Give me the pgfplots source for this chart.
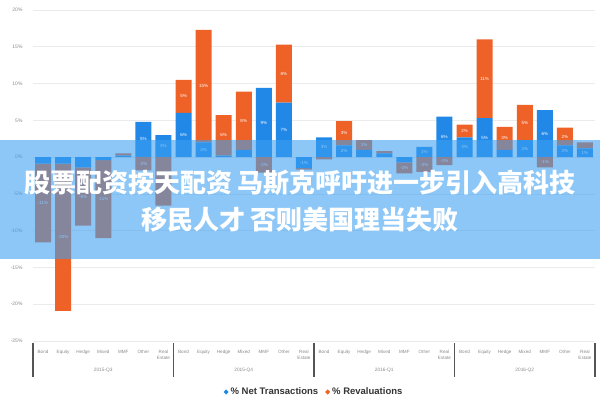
\documentclass[border=0pt]{standalone}
\usepackage{pgfplots}
\usepackage{pgfplotstable}
\pgfplotsset{compat=1.18}
\usepackage{fontspec}
\setmainfont{Liberation Sans}
\newfontfamily\cjk{Noto Sans CJK SC}

\definecolor{nettx}{HTML}{2188E8}
\definecolor{reval}{HTML}{EE6228}
\definecolor{band}{RGB}{58,159,241}
\definecolor{ticktxt}{HTML}{8A8A8A}
\definecolor{sepline}{HTML}{555555}

% fund flows by category, % of assets; positive and negative parts kept apart
% so that each stack grows away from zero
\pgfplotstableread{
x  bp   rp    bn    rn     lbp    lrp    lbn    lrn
0  0    0     -0.9  -10.7  {}     {}     {}     -11\%
1  0    0     -0.9  -20.0  {}     {}     {}     -20\%
2  0    0     -1.4  -7.9   {}     {}     {}     -8\%
3  0    0     -0.4  -10.6  {}     {}     {}     -11\%
4  0.2  0.3   0     0      {}     {}     {}     {}
5  4.8  0     0     -1.8   5\%    {}     {}     -2\%
6  3.0  0     0     -6.6   3\%    {}     {}     -7\%
7  6.0  4.5   0     0      6\%    5\%    {}     {}
8  2.0  15.3  0     0      2\%    15\%   {}     {}
9  0.2  5.5   0     0      {}     6\%    {}     {}
10 1.0  7.9   0     0      {}     8\%    {}     {}
11 9.4  0     0     -2.1   9\%    {}     {}     -2\%
12 7.4  7.9   0     0      7\%    8\%    {}     {}
13 0    0     -1.5  -0.2   {}     {}     -1\%   {}
14 2.7  0     0     -0.3   3\%    {}     {}     {}
15 1.6  3.3   0     0      2\%    3\%    {}     {}
16 1.0  1.3   0     0      {}     1\%    {}     {}
17 0.5  0.3   0     0      {}     {}     {}     {}
18 0    0     -0.7  -1.5   {}     {}     {}     -2\%
19 1.4  0     0     -2.0   1\%    {}     {}     -2\%
20 5.5  0     0     -1.1   6\%    {}     {}     -1\%
21 2.7  1.7   0     0      3\%    2\%    {}     {}
22 5.3  10.7  0     0      5\%    11\%   {}     {}
23 1.0  3.1   0     0      {}     3\%    {}     {}
24 2.3  4.8   0     0      2\%    5\%    {}     {}
25 6.4  0     0     -1.4   6\%    {}     {}     -1\%
26 1.6  2.4   0     0      2\%    2\%    {}     {}
27 1.2  0.8   0     0      1\%    {}     {}     {}
}\flows

\pgfplotsset{
  fundaxis/.style={
    scale only axis, width=562pt, height=331pt,
    at={(33pt,59pt)}, anchor=south west,
    xmin=-0.5, xmax=27.5, ymin=-25, ymax=20,
    ybar stacked, bar width=16pt,
  },
  seglabels/.style={
    point meta=explicit symbolic,
    nodes near coords={\pgfplotspointmeta},
    nodes near coords align=center,
    every node near coord/.append style={
      font=\fontsize{4.5}{5}\selectfont, text=white, inner sep=0pt},
  },
  diamondlegend/.style={
    legend image code/.code={
      \fill[##1] (0.5pt,0pt) -- (3pt,2.6pt) -- (5.5pt,0pt) -- (3pt,-2.6pt) -- cycle;}
  },
}

\begin{document}
\begin{tikzpicture}
\path[use as bounding box] (0pt,0pt) rectangle (600pt,400pt);

% positive parts, with grid, ticks and legend
\begin{axis}[
    fundaxis,
    clip=false,
    axis line style={draw=none},
    major tick length=0pt,
    ymajorgrids,
    grid style={draw=black!8, line width=0.6pt},
    ytick={-25,-20,...,20},
    yticklabel={\pgfmathprintnumber{\tick}\%},
    /pgf/number format/assume math mode=true,
    yticklabel style={font=\fontsize{5}{6}\selectfont, text=ticktxt, xshift=-7pt},
    xtick={0,...,27},
    xticklabels={Bond,Equity,Hedge,Mixed,MMF,Other,{Real\\Estate},
                 Bond,Equity,Hedge,Mixed,MMF,Other,{Real\\Estate},
                 Bond,Equity,Hedge,Mixed,MMF,Other,{Real\\Estate},
                 Bond,Equity,Hedge,Mixed,MMF,Other,{Real\\Estate}},
    xticklabel style={font=\fontsize{4.6}{5.4}\selectfont, text=ticktxt, align=center, yshift=-6pt},
    legend style={at={(0.5,-0.154)}, anchor=center, draw=none, fill=none,
                  font=\bfseries\fontsize{9.5}{11}\selectfont, text=black!80,
                  legend columns=2,
                  /tikz/every even column/.append style={column sep=5pt}},
]
\addplot[fill=nettx, draw=none, diamondlegend, seglabels] table[x=x, y=bp, meta=lbp] {\flows};
\addlegendentry{\% Net Transactions}
\addplot[fill=reval, draw=none, diamondlegend, seglabels] table[x=x, y=rp, meta=lrp] {\flows};
\addlegendentry{\% Revaluations}

% group separators and quarter labels
\draw[sepline, line width=1.6pt] (axis cs:-0.5,-25) ++(0pt,-2pt) -- ++(0pt,-34pt);
\draw[sepline, line width=1.6pt] (axis cs:6.5,-25) ++(0pt,-2pt) -- ++(0pt,-34pt);
\draw[sepline, line width=1.6pt] (axis cs:13.5,-25) ++(0pt,-2pt) -- ++(0pt,-34pt);
\draw[sepline, line width=1.6pt] (axis cs:20.5,-25) ++(0pt,-2pt) -- ++(0pt,-34pt);
\draw[sepline, line width=1.6pt] (axis cs:27.5,-25) ++(0pt,-2pt) -- ++(0pt,-34pt);
\node[font=\fontsize{4.8}{5.5}\selectfont, text=ticktxt] at (axis cs:3,-25) [yshift=-29pt] {2015-Q3};
\node[font=\fontsize{4.8}{5.5}\selectfont, text=ticktxt] at (axis cs:10,-25) [yshift=-29pt] {2015-Q4};
\node[font=\fontsize{4.8}{5.5}\selectfont, text=ticktxt] at (axis cs:17,-25) [yshift=-29pt] {2016-Q1};
\node[font=\fontsize{4.8}{5.5}\selectfont, text=ticktxt] at (axis cs:24,-25) [yshift=-29pt] {2016-Q2};
\end{axis}

% negative parts
\begin{axis}[fundaxis, hide axis]
\addplot[fill=nettx, draw=none, seglabels] table[x=x, y=bn, meta=lbn] {\flows};
\addplot[fill=reval, draw=none, seglabels] table[x=x, y=rn, meta=lrn] {\flows};
\end{axis}

% headline banner
\fill[band, opacity=0.58] (0pt,141pt) rectangle (600pt,260pt);
\node[text=white, font=\cjk\bfseries\fontsize{26}{30}\selectfont] at (300pt,217pt)
  {股票配资按天配资 马斯克呼吁进一步引入高科技};
\node[text=white, font=\cjk\bfseries\fontsize{26}{30}\selectfont] at (300pt,180pt)
  {移民人才 否则美国理当失败};
\end{tikzpicture}
\end{document}
